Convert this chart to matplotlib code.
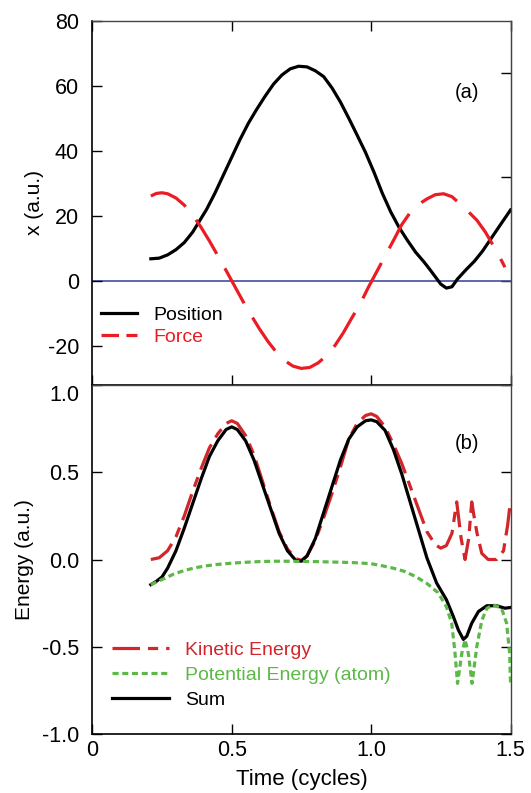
import matplotlib
matplotlib.use('Agg')
import matplotlib.pyplot as plt
from matplotlib.lines import Line2D

# ---- panel (a): position and force vs time ----
pos_t = [0.21, 0.24, 0.27, 0.30, 0.33, 0.36, 0.38, 0.41, 0.44, 0.47, 0.50,
         0.53, 0.56, 0.59, 0.62, 0.65, 0.68, 0.71, 0.74, 0.77, 0.80, 0.83,
         0.86, 0.89, 0.92, 0.95, 0.98, 1.01, 1.04, 1.07, 1.10, 1.13, 1.16,
         1.19, 1.21, 1.23, 1.25, 1.27, 1.29, 1.31, 1.34, 1.37, 1.40, 1.43,
         1.46, 1.50]
pos_x = [6.8, 7.0, 8.0, 9.6, 11.8, 15.0, 17.8, 22.0, 27.0, 32.5, 38.0,
         43.5, 48.5, 52.8, 56.8, 60.5, 63.3, 65.2, 66.0, 65.8, 64.6, 62.8,
         59.3, 55.0, 50.0, 44.8, 39.5, 33.5, 27.0, 21.3, 16.5, 12.5, 8.8,
         5.8, 3.6, 1.3, -1.0, -2.2, -1.8, 0.6, 3.4, 6.0, 9.2, 13.0,
         16.8, 21.8]

force_t = [0.21, 0.23, 0.25, 0.27, 0.30, 0.33, 0.36, 0.39, 0.42, 0.45, 0.48,
           0.51, 0.54, 0.57, 0.60, 0.63, 0.66, 0.69, 0.72, 0.75, 0.78, 0.81,
           0.84, 0.87, 0.90, 0.93, 0.96, 0.99, 1.02, 1.05, 1.08, 1.11, 1.14,
           1.17, 1.20, 1.23, 1.26, 1.29, 1.32, 1.35, 1.38, 1.41, 1.44, 1.47,
           1.48]
force_x = [26.1, 26.9, 27.1, 26.8, 25.5, 23.3, 20.3, 16.5, 12.3, 7.8, 3.2,
           -1.5, -6.2, -10.6, -14.8, -18.6, -21.9, -24.5, -26.2, -26.9, -26.6, -25.2,
           -23.0, -19.9, -16.0, -11.5, -7.2, -2.0, 2.8, 7.6, 12.4, 17.3, 21.0,
           23.5, 25.2, 26.5, 26.8, 25.9, 23.6, 21.2, 18.6, 15.0, 10.6, 5.9,
           4.2]

# ---- panel (b): energies vs time ----
ke_t = [0.21, 0.24, 0.27, 0.30, 0.33, 0.36, 0.39, 0.42, 0.45, 0.48, 0.50,
        0.52, 0.55, 0.58, 0.61, 0.64, 0.67, 0.70, 0.73, 0.75, 0.77, 0.80,
        0.83, 0.86, 0.89, 0.92, 0.95, 0.98, 1.00, 1.02, 1.05, 1.08, 1.11,
        1.14, 1.17, 1.20, 1.23, 1.25, 1.27, 1.29, 1.307, 1.323, 1.337, 1.35,
        1.361, 1.37, 1.38, 1.397, 1.42, 1.45, 1.475, 1.49, 1.50]
ke_e = [0.00, 0.01, 0.05, 0.13, 0.25, 0.39, 0.52, 0.64, 0.72, 0.78, 0.795,
        0.78, 0.71, 0.60, 0.45, 0.30, 0.16, 0.06, 0.005, -0.005, 0.02, 0.11,
        0.24, 0.38, 0.53, 0.69, 0.78, 0.825, 0.835, 0.82, 0.76, 0.66, 0.55,
        0.42, 0.29, 0.16, 0.085, 0.065, 0.08, 0.15, 0.33, 0.12, 0.0, 0.12,
        0.33, 0.24, 0.15, 0.035, 0.0, 0.0, 0.05, 0.20, 0.34]

pe_t = [0.21, 0.25, 0.29, 0.33, 0.37, 0.41, 0.45, 0.50, 0.55, 0.60, 0.65,
        0.70, 0.75, 0.80, 0.85, 0.90, 0.95, 1.00, 1.04, 1.08, 1.12, 1.16,
        1.20, 1.24, 1.27, 1.289, 1.30, 1.31, 1.325, 1.337, 1.349, 1.362,
        1.379, 1.397, 1.415, 1.438, 1.468, 1.486, 1.497, 1.50]
pe_e = [-0.144, -0.115, -0.085, -0.063, -0.047, -0.036, -0.028, -0.021, -0.016,
        -0.012, -0.010, -0.010, -0.011, -0.012, -0.014, -0.016, -0.019, -0.024,
        -0.036, -0.050, -0.068, -0.098, -0.137, -0.19, -0.27, -0.365, -0.52,
        -0.71, -0.54, -0.46, -0.54, -0.71, -0.50, -0.35, -0.28, -0.26, -0.28,
        -0.365, -0.54, -0.71]

sum_t = [0.21, 0.23, 0.25, 0.27, 0.30, 0.33, 0.36, 0.39, 0.42, 0.45, 0.48,
         0.50, 0.52, 0.55, 0.58, 0.61, 0.64, 0.67, 0.70, 0.73, 0.75, 0.77,
         0.80, 0.83, 0.86, 0.89, 0.92, 0.95, 0.98, 1.00, 1.02, 1.05, 1.08,
         1.11, 1.14, 1.17, 1.20, 1.235, 1.27, 1.295, 1.313, 1.331, 1.343,
         1.361, 1.385, 1.415, 1.45, 1.48, 1.50]
sum_e = [-0.144, -0.125, -0.10, -0.05, 0.05, 0.18, 0.32, 0.46, 0.59, 0.68, 0.745,
         0.76, 0.745, 0.68, 0.57, 0.43, 0.29, 0.15, 0.05, -0.005, -0.01, 0.02,
         0.12, 0.27, 0.42, 0.57, 0.69, 0.76, 0.795, 0.80, 0.79, 0.74, 0.63,
         0.49, 0.33, 0.17, 0.01, -0.135, -0.23, -0.327, -0.404, -0.458, -0.44,
         -0.365, -0.298, -0.265, -0.265, -0.279, -0.275]

x_ticks = [0, 0.5, 1.0, 1.5]
x_ticklabels = ['0', '0.5', '1.0', '1.5']
top_yticks = [-20, 0, 20, 40, 60, 80]
top_right_ticks = [0, 32, 64]
bot_yticks = [-1.0, -0.5, 0.0, 0.5, 1.0]
bot_yticklabels = ['-1.0', '-0.5', '0.0', '0.5', '1.0']

plt.rcParams['font.family'] = ['Liberation Sans', 'DejaVu Sans']
plt.rcParams['axes.unicode_minus'] = False

red_force = '#ec1c24'
red_ke = '#d2262b'
green_pe = '#5cb947'
blue_zero = '#3f4fa0'

fig = plt.figure(figsize=(5.31, 7.93), dpi=100)
ax1 = fig.add_axes([0.1738, 0.5145, 0.7876, 0.4594])
ax2 = fig.add_axes([0.1738, 0.0744, 0.7876, 0.4401])

# panel (a)
ax1.axhline(0, color=blue_zero, lw=1.2, zorder=1)
ax1.plot(pos_t, pos_x, color='black', lw=2.3, zorder=2)
ax1.plot(force_t, force_x, color=red_force, lw=2.3, dashes=(12.5, 5.2), zorder=3)
ax1.set_xlim(0, 1.5)
ax1.set_ylim(-32, 80)
ax1.set_xticks(x_ticks)
ax1.set_yticks(top_yticks)
ax1.tick_params(axis='both', direction='in', length=7, width=1,
                labelsize=15.5, top=True, labelbottom=False)
ax1.tick_params(axis='y', pad=9.5)
sec = ax1.secondary_yaxis('right')
sec.set_yticks(top_right_ticks)
sec.tick_params(direction='in', length=7, width=1, labelright=False)
ax1.set_ylabel('x (a.u.)', fontsize=15)
ax1.yaxis.set_label_coords(-0.116, 0.5)
ax1.text(0.897, 0.803, '(a)', transform=ax1.transAxes, fontsize=14.5,
         ha='center', va='center')

h_pos = Line2D([], [], color='black', lw=2.3)
h_force = Line2D([], [], color=red_force, lw=2.3, dashes=(5.5, 2.3))
leg1 = ax1.legend([h_pos, h_force], ['Position', 'Force'], loc='center left',
                  bbox_to_anchor=(0.022, 0.162), frameon=False, fontsize=14,
                  handlelength=1.83, handletextpad=0.82, labelspacing=0.25,
                  borderpad=0, borderaxespad=0)
leg1.get_texts()[1].set_color(red_force)

# panel (b)
ax2.plot(ke_t, ke_e, color=red_ke, lw=2.3, dashes=(8.6, 2.5, 3.2, 2.5), zorder=2)
ax2.plot(sum_t, sum_e, color='black', lw=2.3, zorder=3)
ax2.plot(pe_t, pe_e, color=green_pe, lw=2.3, dashes=(1.9, 1.15), zorder=4)
ax2.set_xlim(0, 1.5)
ax2.set_ylim(-1.0, 1.0)
ax2.set_xticks(x_ticks)
ax2.set_xticklabels(x_ticklabels)
ax2.set_yticks(bot_yticks)
ax2.set_yticklabels(bot_yticklabels)
ax2.tick_params(axis='both', direction='in', length=7, width=1,
                labelsize=15.5, right=True)
ax2.tick_params(axis='y', pad=9.5)
ax2.tick_params(axis='x', pad=4)
ax2.yaxis.get_major_ticks()[-1].label1.set_va('top')
ax2.set_ylabel('Energy (a.u.)', fontsize=15)
ax2.yaxis.set_label_coords(-0.140, 0.5)
ax2.set_xlabel('Time (cycles)', fontsize=16)
ax2.xaxis.set_label_coords(0.5, -0.1)
ax2.text(0.897, 0.833, '(b)', transform=ax2.transAxes, fontsize=14.5,
         ha='center', va='center')

h_ke = Line2D([], [], color=red_ke, lw=2.3, dashes=(8.6, 2.5, 3.2, 2.5))
h_pe = Line2D([], [], color=green_pe, lw=2.3, dashes=(1.9, 1.15))
h_sum = Line2D([], [], color='black', lw=2.3)
leg2 = ax2.legend([h_ke, h_pe, h_sum],
                  ['Kinetic Energy', 'Potential Energy (atom)', 'Sum'],
                  loc='center left', bbox_to_anchor=(0.046, 0.168),
                  frameon=False, fontsize=14, handlelength=2.96,
                  handletextpad=0.84, labelspacing=0.38,
                  borderpad=0, borderaxespad=0)
leg2.get_texts()[0].set_color(red_ke)
leg2.get_texts()[1].set_color(green_pe)

for ax in (ax1, ax2):
    for side in ('left', 'bottom'):
        ax.spines[side].set_color('black')
        ax.spines[side].set_linewidth(1.2)
    for side in ('top', 'right'):
        ax.spines[side].set_color('#444444')
        ax.spines[side].set_linewidth(1.0)
sec.spines['right'].set_color('#444444')

fig.savefig('out.png', dpi=100)
